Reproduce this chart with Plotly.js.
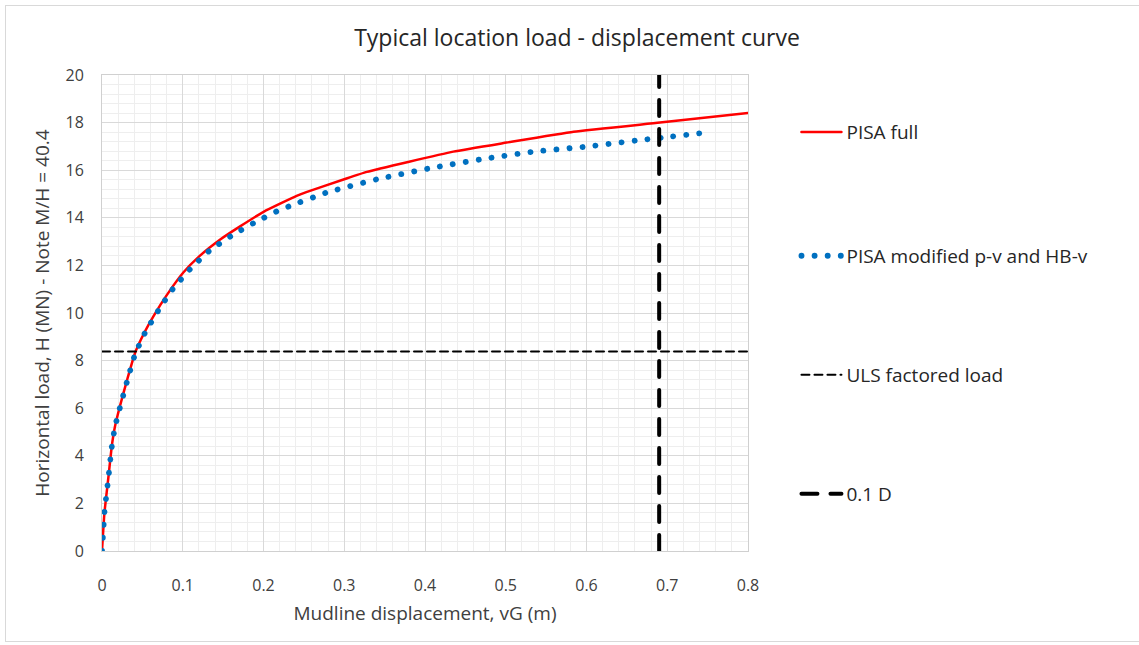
<!DOCTYPE html>
<html>
<head>
<meta charset="utf-8">
<script src="https://cdn.plot.ly/plotly-3.0.1.min.js"></script>
<style>
  html, body { margin: 0; padding: 0; background: #ffffff; }
  #chart { position: absolute; left: 0; top: 0; width: 1139px; height: 645px; }
  #frame { position: absolute; left: 5px; top: 5px; width: 1140px; height: 635px;
           border: 1px solid #d9d9d9; pointer-events: none; }
  .roundcap .js-line, .roundcap path.js-line { stroke-linecap: round; }
</style>
</head>
<body>
<div id="chart"></div>
<div id="frame"></div>
<script>
// ---- data ----
const fullX = [0, 0.003, 0.008, 0.012, 0.016, 0.022, 0.031, 0.041, 0.053, 0.064, 0.080, 0.1007, 0.121, 0.146, 0.171, 0.2006, 0.241, 0.253, 0.300, 0.328, 0.435, 0.501, 0.584, 0.691, 0.800];
const fullY = [0, 1.6, 3.12, 4.38, 5.22, 6.06, 7.18, 8.33, 9.21, 9.88, 10.74, 11.7, 12.4, 13.08, 13.64, 14.26, 14.92, 15.08, 15.62, 15.93, 16.78, 17.16, 17.62, 18.0, 18.4];

const modX = [0, 0.003, 0.008, 0.012, 0.016, 0.022, 0.031, 0.041, 0.053, 0.070, 0.0875, 0.109, 0.1325, 0.160, 0.188, 0.217, 0.233, 0.279, 0.342, 0.406, 0.470, 0.535, 0.600, 0.665, 0.697, 0.747];
const modY = [0, 1.6, 3.1, 4.35, 5.2, 6.0, 7.12, 8.27, 9.15, 10.12, 11.0, 11.84, 12.6, 13.24, 13.78, 14.28, 14.5, 15.07, 15.63, 16.08, 16.46, 16.78, 16.99, 17.26, 17.38, 17.58];

const ulsX = [0, 0.8];
const ulsY = [8.38, 8.38];

const dX = [0.69, 0.69];
const dY = [0, 20];

const seriesNames = ["PISA full", "PISA modified p-v and HB-v", "ULS factored load", "0.1 D"];

const xTicks = [0, 0.1, 0.2, 0.3, 0.4, 0.5, 0.6, 0.7, 0.8];
const xTickText = ["0", "0.1", "0.2", "0.3", "0.4", "0.5", "0.6", "0.7", "0.8"];
const yTicks = [0, 2, 4, 6, 8, 10, 12, 14, 16, 18, 20];

const FONT = "Open Sans, Liberation Sans, Arial, sans-serif";

const traces = [
  { x: fullX, y: fullY, name: seriesNames[0], type: "scatter", mode: "lines",
    line: { color: "#ff0000", width: 2.5, shape: "spline", smoothing: 0.4 }, legend: "legend" },
  { x: modX, y: modY, name: seriesNames[1], type: "scatter", mode: "lines",
    line: { color: "#0070c0", width: 5.8, dash: "0.1px,13px", shape: "spline", smoothing: 0.4 }, legend: "legend2" },
  { x: ulsX, y: ulsY, name: seriesNames[2], type: "scatter", mode: "lines",
    line: { color: "#000000", width: 2, dash: "8px,5px" }, legend: "legend3" },
  { x: dX, y: dY, name: seriesNames[3], type: "scatter", mode: "lines",
    line: { color: "#000000", width: 4, dash: "16px,13px" }, legend: "legend4" }
];

function leg(y) {
  return { x: 1.075, y: y, xanchor: "left", yanchor: "middle", bgcolor: "rgba(0,0,0,0)",
           font: { family: FONT, size: 19, color: "#262626" }, itemwidth: 40 };
}

const layout = {
  width: 1139, height: 645,
  margin: { l: 102, r: 391, t: 75, b: 94 },
  paper_bgcolor: "#ffffff", plot_bgcolor: "#ffffff",
  title: { text: "Typical location load - displacement curve",
           font: { family: FONT, size: 23, color: "#262626" },
           x: 577 / 1139, xref: "container", xanchor: "center", y: 1 - 38 / 645, yanchor: "middle" },
  showlegend: true,
  legend: leg(0.880),
  legend2: leg(0.620),
  legend3: leg(0.370),
  legend4: leg(0.120),
  xaxis: {
    range: [0, 0.8], tickvals: xTicks, ticktext: xTickText, ticks: "",
    showgrid: true, gridcolor: "#d9d9d9", gridwidth: 1,
    minor: { dtick: 0.02, showgrid: true, gridcolor: "#eeeeee", gridwidth: 1, ticks: "" },
    showline: true, linecolor: "#d0d0d0", linewidth: 1, mirror: true,
    zeroline: false, ticklabelstandoff: 20,
    tickfont: { family: FONT, size: 16, color: "#404040" },
    title: { text: "Mudline displacement, vG (m)", standoff: 11,
             font: { family: FONT, size: 19, color: "#404040" } }
  },
  yaxis: {
    range: [0, 20], tickvals: yTicks, ticks: "",
    showgrid: true, gridcolor: "#d9d9d9", gridwidth: 1,
    minor: { dtick: 0.4, showgrid: true, gridcolor: "#eeeeee", gridwidth: 1, ticks: "" },
    showline: true, linecolor: "#d0d0d0", linewidth: 1, mirror: true,
    zeroline: false, ticklabelstandoff: 14,
    tickfont: { family: FONT, size: 16, color: "#404040" },
    title: { text: "Horizontal load, H (MN) - Note M/H = 40.4", standoff: 10,
             font: { family: FONT, size: 19, color: "#404040" } }
  }
};

Plotly.newPlot("chart", traces, layout, { displayModeBar: false, staticPlot: true }).then(function (gd) {
  gd.classList.add("roundcap");
});
</script>
</body>
</html>
